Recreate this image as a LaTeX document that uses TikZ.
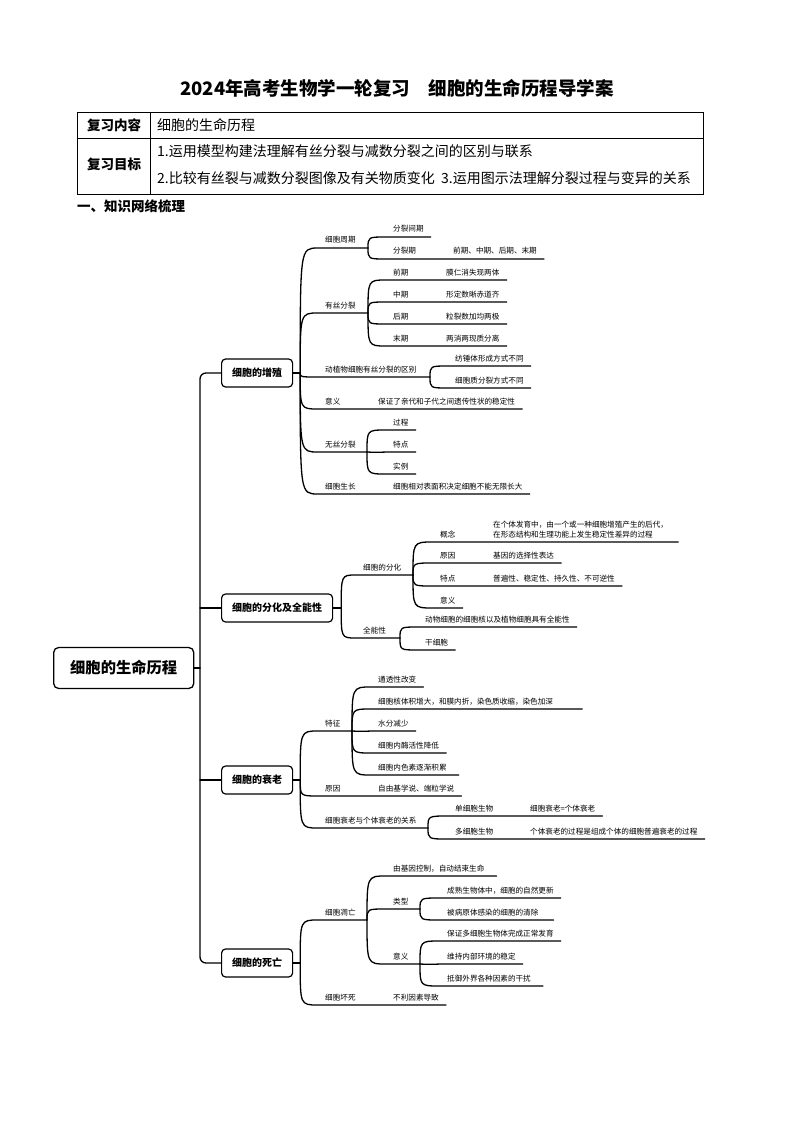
\documentclass[tikz,border=0pt]{standalone}
\usepackage{fontspec}
\setmainfont{Noto Sans CJK SC}

\begin{document}
\begin{tikzpicture}[x=1pt, y=-1pt]
  \tikzstyle{txt} = [anchor=south west, inner xsep=7pt, inner ysep=3.8pt, font={\fontsize{7.6}{10}\selectfont}]
  \tikzstyle{leaf} = [txt, text height=6.6pt, text depth=1pt]
  \tikzstyle{hub} = [draw, line width=1.2pt, rounded corners=4pt, anchor=west, inner xsep=10.5pt, minimum height=28pt, font={\fontsize{10}{12}\selectfont\bfseries}]
  \tikzstyle{stem} = [line width=1.3pt, line cap=round, line join=round]
  \tikzstyle{twig} = [stem, to path={.. controls (\tikztostart |- \tikztotarget) and (\tikztostart |- \tikztotarget) .. (\tikztotarget)}]
  \tikzstyle{flat} = [stem, to path={.. controls +(4,0.3) and +(-4,0.3) .. (\tikztotarget)}]
  \tikzstyle{cell} = [inner sep=0pt, font={\fontsize{14}{16}\selectfont}]
  \tikzstyle{head} = [inner sep=0pt, font={\fontsize{13.5}{16}\selectfont\bfseries}]

  \useasboundingbox (0,0) rectangle (794,1123);
  \fill[white] (0,0) rectangle (794,1123);

  \node[font={\fontsize{18.5}{20}\selectfont\bfseries}] (title) at (397,88) {2024年高考生物学一轮复习　细胞的生命历程导学案};

  \draw[line width=0.8pt] (77,112) rectangle (703,194) (77,138) -- (703,138) (150,112) -- (150,194);
  \node[head] (nr) at (114,125) {复习内容};
  \node[cell, anchor=west] (nrx) at (157,125) {细胞的生命历程};
  \node[head] (mb) at (114,164) {复习目标};
  \node[cell, anchor=west] (mb1) at (157,151) {1.运用模型构建法理解有丝分裂与减数分裂之间的区别与联系};
  \node[cell, anchor=west] (mb2) at (157,178) {2.比较有丝裂与减数分裂图像及有关物质变化\ \ 3.运用图示法理解分裂过程与变异的关系};
  \node[head, anchor=west] (sl0) at (77,206) {一、知识网络梳理};

  \node[draw, line width=1.3pt, rounded corners=5pt, anchor=west, inner xsep=16.5pt, minimum height=41pt, font={\fontsize{15.3}{17}\selectfont\bfseries}] (rt) at (53,668) {细胞的生命历程};
  \coordinate (trunk) at (200,668);

  \node[hub] (zz) at (221,373) {细胞的增殖};
  \node[hub] (fh) at (221,608) {细胞的分化及全能性};
  \node[hub] (sl) at (221,780) {细胞的衰老};
  \node[hub] (sw) at (221,963) {细胞的死亡};

  \draw[stem] (rt.east) -- (trunk);
  \draw[stem, rounded corners=6pt] (trunk) |- (zz.west);
  \draw[stem, rounded corners=6pt] (trunk) |- (sw.west);
  \draw[stem] (fh.west) -- (fh.west -| trunk) (sl.west) -- (sl.west -| trunk);

  \coordinate (zzf) at ([xshift=7pt]zz.east);
  \coordinate (fhf) at ([xshift=8pt]fh.east);
  \coordinate (slf) at ([xshift=7pt]sl.east);
  \coordinate (swf) at ([xshift=7pt]sw.east);
  \draw[stem] (zz.east) -- (zzf) (fh.east) -- (fhf) (sl.east) -- (slf) (sw.east) -- (swf);

  \node[leaf] (zq) at (318,248) {细胞周期};
  \coordinate (zqf) at (368,248);
  \draw[twig] (zzf) to (zq.south west) -- (zqf);
  \node[leaf] (zq1) at (386,237) {分裂间期};
  \node[leaf] (zq2) at (386,259) {分裂期};
  \node[leaf] (zq2x) at (446,259) {前期、中期、后期、末期};
  \draw[twig] (zqf) to (zq1.south west) -- (zq1.south east);
  \draw[twig] (zqf) to (zq2.south west) -- (zq2x.south east);

  \node[leaf] (ys) at (318,313) {有丝分裂};
  \coordinate (ysf) at (368,313);
  \draw[twig] (zzf) to (ys.south west) -- (ysf);
  \foreach \i/\y/\p/\q in {1/280/前期/膜仁消失现两体, 2/302/中期/形定数晰赤道齐, 3/324/后期/粒裂数加均两极, 4/346/末期/两消两现质分离}{
    \node[leaf] (ys\i) at (386,\y) {\p};
    \node[leaf] (yd\i) at (439,\y) {\q};
    \draw[twig] (ysf) to (ys\i.south west) -- (yd\i.south east);
  }

  \node[leaf] (dz) at (318,377) {动植物细胞有丝分裂的区别};
  \coordinate (dzf) at (430,377);
  \draw[twig] (zzf) to (dz.south west) -- (dzf);
  \node[leaf] (dz1) at (448,366) {纺锤体形成方式不同};
  \node[leaf] (dz2) at (448,388) {细胞质分裂方式不同};
  \draw[twig] (dzf) to (dz1.south west) -- (dz1.south east);
  \draw[twig] (dzf) to (dz2.south west) -- (dz2.south east);

  \node[leaf] (yy) at (318,409) {意义};
  \node[leaf] (yyx) at (371,409) {保证了亲代和子代之间遗传性状的稳定性};
  \draw[twig] (zzf) to (yy.south west) -- (yyx.south east);

  \node[leaf] (ws) at (318,452) {无丝分裂};
  \coordinate (wsf) at (367,452);
  \draw[twig] (zzf) to (ws.south west) -- (wsf);
  \node[leaf] (ws1) at (386,430) {过程};
  \node[leaf] (ws2) at (386,452) {特点};
  \node[leaf] (ws3) at (386,474) {实例};
  \draw[twig] (wsf) to (ws1.south west) -- (ws1.south east);
  \draw[flat] (wsf) to (ws2.south west) -- (ws2.south east);
  \draw[twig] (wsf) to (ws3.south west) -- (ws3.south east);

  \node[leaf] (zs) at (318,494) {细胞生长};
  \node[leaf] (zsx) at (386,494) {细胞相对表面积决定细胞不能无限长大};
  \draw[twig] (zzf) to (zs.south west) -- (zsx.south east);

  \node[leaf] (fa) at (356,575) {细胞的分化};
  \coordinate (faf) at (413,575);
  \draw[twig] (fhf) to (fa.south west) -- (faf);
  \node[leaf] (fa1) at (433,542) {概念};
  \node[txt, align=left] (fa1x) at (486,542) {在个体发育中，由一个或一种细胞增殖产生的后代，\\在形态结构和生理功能上发生稳定性差异的过程};
  \draw[twig] (faf) to (fa1.south west) -- ([xshift=3pt]fa1x.south east);
  \foreach \i/\y/\p/\q in {2/563/原因/基因的选择性表达, 3/586/特点/普遍性、稳定性、持久性、不可逆性}{
    \node[leaf] (fa\i) at (433,\y) {\p};
    \node[leaf] (fd\i) at (486,\y) {\q};
    \draw[twig] (faf) to (fa\i.south west) -- (fd\i.south east);
  }
  \node[leaf] (fa4) at (433,608) {意义};
  \draw[twig] (faf) to (fa4.south west) -- (fa4.south east);

  \node[leaf] (qn) at (356,638) {全能性};
  \coordinate (qnf) at (400,638);
  \draw[twig] (fhf) to (qn.south west) -- (qnf);
  \node[leaf] (qn1) at (418,627) {动物细胞的细胞核以及植物细胞具有全能性};
  \node[leaf] (qn2) at (418,650) {干细胞};
  \draw[twig] (qnf) to (qn1.south west) -- (qn1.south east);
  \draw[twig] (qnf) to (qn2.south west) -- (qn2.south east);

  \node[leaf] (tz) at (318,731) {特征};
  \coordinate (tzf) at (352,731);
  \draw[twig] (slf) to (tz.south west) -- (tzf);
  \node[leaf] (tz1) at (371,687) {通透性改变};
  \node[leaf] (tz2) at (371,709) {细胞核体积增大，和膜内折，染色质收缩，染色加深};
  \node[leaf] (tz3) at (371,731) {水分减少};
  \node[leaf] (tz4) at (371,753) {细胞内酶活性降低};
  \node[leaf] (tz5) at (371,775) {细胞内色素逐渐积累};
  \draw[twig] (tzf) to (tz1.south west) -- (tz1.south east);
  \draw[twig] (tzf) to (tz2.south west) -- ([xshift=22pt]tz2.south east);
  \draw[flat] (tzf) to (tz3.south west) -- (tz3.south east);
  \draw[twig] (tzf) to (tz4.south west) -- (tz4.south east);
  \draw[twig] (tzf) to (tz5.south west) -- ([xshift=5pt]tz5.south east);

  \node[leaf] (yn) at (318,796) {原因};
  \node[leaf] (ynx) at (371,796) {自由基学说、端粒学说};
  \draw[twig] (slf) to (yn.south west) -- (ynx.south east);

  \node[leaf] (gx) at (318,828) {细胞衰老与个体衰老的关系};
  \coordinate (gxf) at (428,828);
  \draw[twig] (slf) to (gx.south west) -- (gxf);
  \node[leaf] (gx1) at (448,816) {单细胞生物};
  \node[leaf] (gx1x) at (523,816) {细胞衰老=个体衰老};
  \node[leaf] (gx2) at (448,839) {多细胞生物};
  \node[leaf] (gx2x) at (523,839) {个体衰老的过程是组成个体的细胞普遍衰老的过程};
  \draw[twig] (gxf) to (gx1.south west) -- (gx1x.south east);
  \draw[twig] (gxf) to (gx2.south west) -- (gx2x.south east);

  \node[leaf] (dw) at (318,920) {细胞凋亡};
  \coordinate (dwf) at (367,920);
  \draw[twig] (swf) to (dw.south west) -- (dwf);
  \node[leaf] (dw1) at (386,876) {由基因控制，自动结束生命};
  \draw[twig] (dwf) to (dw1.south west) -- ([xshift=5pt]dw1.south east);

  \node[leaf] (lx) at (386,909) {类型};
  \coordinate (lxf) at (420,909);
  \draw[twig] (dwf) to (lx.south west) -- (lxf);
  \node[leaf] (lx1) at (440,898) {成熟生物体中，细胞的自然更新};
  \node[leaf] (lx2) at (440,920) {被病原体感染的细胞的清除};
  \draw[twig] (lxf) to (lx1.south west) -- (lx1.south east);
  \draw[twig] (lxf) to (lx2.south west) -- ([xshift=8pt]lx2.south east);

  \node[leaf] (yi) at (386,964) {意义};
  \coordinate (yif) at (420,964);
  \draw[twig] (dwf) to (yi.south west) -- (yif);
  \node[leaf] (yi1) at (440,941) {保证多细胞生物体完成正常发育};
  \node[leaf] (yi2) at (440,964) {维持内部环境的稳定};
  \node[leaf] (yi3) at (440,986) {抵御外界各种因素的干扰};
  \draw[twig] (yif) to (yi1.south west) -- (yi1.south east);
  \draw[flat] (yif) to (yi2.south west) -- (yi2.south east);
  \draw[twig] (yif) to (yi3.south west) -- ([xshift=5pt]yi3.south east);

  \node[leaf] (hs) at (318,1005) {细胞坏死};
  \node[leaf] (hsx) at (386,1005) {不利因素导致};
  \draw[twig] (swf) to (hs.south west) -- (hsx.south east);
\end{tikzpicture}
\end{document}
